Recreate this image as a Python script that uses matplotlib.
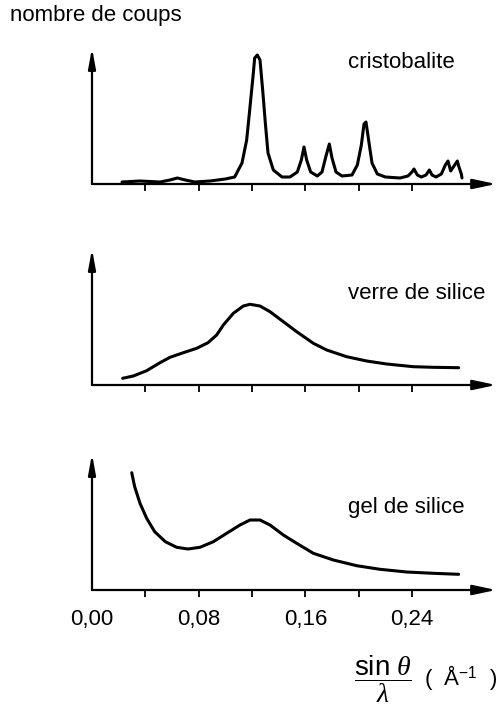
import matplotlib.pyplot as plt

# sin(theta)/lambda values (A^-1) and counts (arbitrary units)
cristo_x = [0.0225, 0.036, 0.051, 0.0585, 0.064, 0.070, 0.077, 0.0885, 0.100, 0.107,
            0.1125, 0.116, 0.1185, 0.121, 0.122, 0.124, 0.126, 0.128, 0.130, 0.132,
            0.136, 0.1425, 0.1485, 0.154, 0.157, 0.159, 0.161, 0.164, 0.169,
            0.1725, 0.1755, 0.178, 0.180, 0.183, 0.1875, 0.195, 0.199, 0.202, 0.204,
            0.2055, 0.208, 0.210, 0.214, 0.220, 0.231, 0.237, 0.240, 0.2415, 0.244,
            0.247, 0.2505, 0.253, 0.255, 0.258, 0.262, 0.265, 0.267, 0.269, 0.2715,
            0.274, 0.275, 0.277, 0.2775]
cristo_y = [2, 3, 2, 4, 6, 4, 2, 3, 5, 7,
            21, 44, 77, 111, 126, 129, 124, 94, 61, 31,
            14, 7, 7, 12, 24, 37, 24, 12, 8,
            12, 28, 40, 26, 12, 8, 9, 19, 39, 60,
            62, 39, 21, 10, 7, 6, 8, 12, 15, 9,
            7, 9, 14, 9, 7, 10, 19, 23, 13, 18,
            23, 18, 10, 6]

verre_x = [0.023, 0.031, 0.041, 0.051, 0.0585, 0.0685, 0.0785, 0.087, 0.0935, 0.0985,
           0.106, 0.1135, 0.1185, 0.126, 0.1335, 0.1435, 0.1535, 0.166, 0.176, 0.191,
           0.206, 0.221, 0.241, 0.256, 0.275]
verre_y = [6.7, 9, 14.3, 22.3, 27.7, 32.3, 36.7, 42.3, 50, 60,
           71.7, 79, 80.7, 79, 73.3, 63.3, 53.3, 41.7, 35, 28.3,
           24, 21, 18.3, 17.7, 17.3]

gel_x = [0.0298, 0.032, 0.036, 0.041, 0.047, 0.055, 0.0635, 0.072, 0.081, 0.091,
         0.101, 0.111, 0.1185, 0.126, 0.1335, 0.1435, 0.1535, 0.166, 0.181, 0.1985,
         0.216, 0.236, 0.256, 0.275]
gel_y = [117.3, 103.3, 86.7, 71.7, 58.3, 48.3, 42.7, 41, 42.7, 48.3,
         56.7, 65, 70, 70, 65, 55, 46.7, 36.7, 30, 24.3,
         20.7, 18, 16.7, 15.7]

panel_names = ['cristobalite', 'verre de silice', 'gel de silice']
name_heights = [121, 92, 82]
tick_pos = [0.00, 0.04, 0.08, 0.12, 0.16, 0.20, 0.24]
tick_labels = ['0,00', '', '0,08', '', '0,16', '', '0,24']

plt.rcParams['font.family'] = ['Liberation Sans', 'DejaVu Sans']
plt.rcParams['mathtext.fontset'] = 'custom'
plt.rcParams['mathtext.rm'] = 'Liberation Sans'
plt.rcParams['mathtext.it'] = 'Liberation Serif:italic'

W, H = 496, 710
fig = plt.figure(figsize=(W / 100, H / 100), dpi=100)

axis_rows = [184, 385, 590]   # pixel row of each x axis
curves = [(cristo_x, cristo_y), (verre_x, verre_y), (gel_x, gel_y)]

for i, (row, (xs, ys)) in enumerate(zip(axis_rows, curves)):
    ax = fig.add_axes([92 / W, 1 - row / H, 404 / W, 136 / H])
    ax.set_xlim(0, 0.303)
    ax.set_ylim(0, 136)
    for s in ax.spines.values():
        s.set_visible(False)

    # axes with arrow heads
    ax.annotate('', xy=(0, 1), xytext=(0, 0), xycoords='axes fraction',
                arrowprops=dict(arrowstyle='-|>,head_length=1.2,head_width=0.22',
                                lw=1.6, color='k', shrinkA=0, shrinkB=0))
    ax.annotate('', xy=(1, 0), xytext=(0, 0), xycoords='axes fraction',
                arrowprops=dict(arrowstyle='-|>,head_length=1.4,head_width=0.3',
                                lw=1.6, color='k', shrinkA=0, shrinkB=0))

    ax.plot(xs, ys, color='k', lw=2.2, solid_joinstyle='round', solid_capstyle='round')

    ax.set_xticks(tick_pos)
    ax.set_yticks([])
    ax.tick_params(axis='x', direction='out', length=5, width=1.3, pad=9,
                   labelsize=16, labelbottom=(i == 2))
    if i == 2:
        ax.set_xticklabels(tick_labels)
    ax.xaxis.get_major_ticks()[0].tick1line.set_visible(False)

    ax.text(0.192, name_heights[i], panel_names[i], fontsize=16, va='center', ha='left')

fig.text(10 / W, 1 - 16 / H, 'nombre de coups', fontsize=16, va='center', ha='left')
fig.text(383 / W, 1 - 679 / H, r'$\dfrac{\mathrm{sin}\ \theta}{\lambda}$',
         fontsize=20, va='center', ha='center')
fig.text(424 / W, 1 - 677 / H, r'(  Å$^{\mathrm{-1}}$  )', fontsize=16,
         va='center', ha='left')

fig.savefig('out.png', dpi=100)
